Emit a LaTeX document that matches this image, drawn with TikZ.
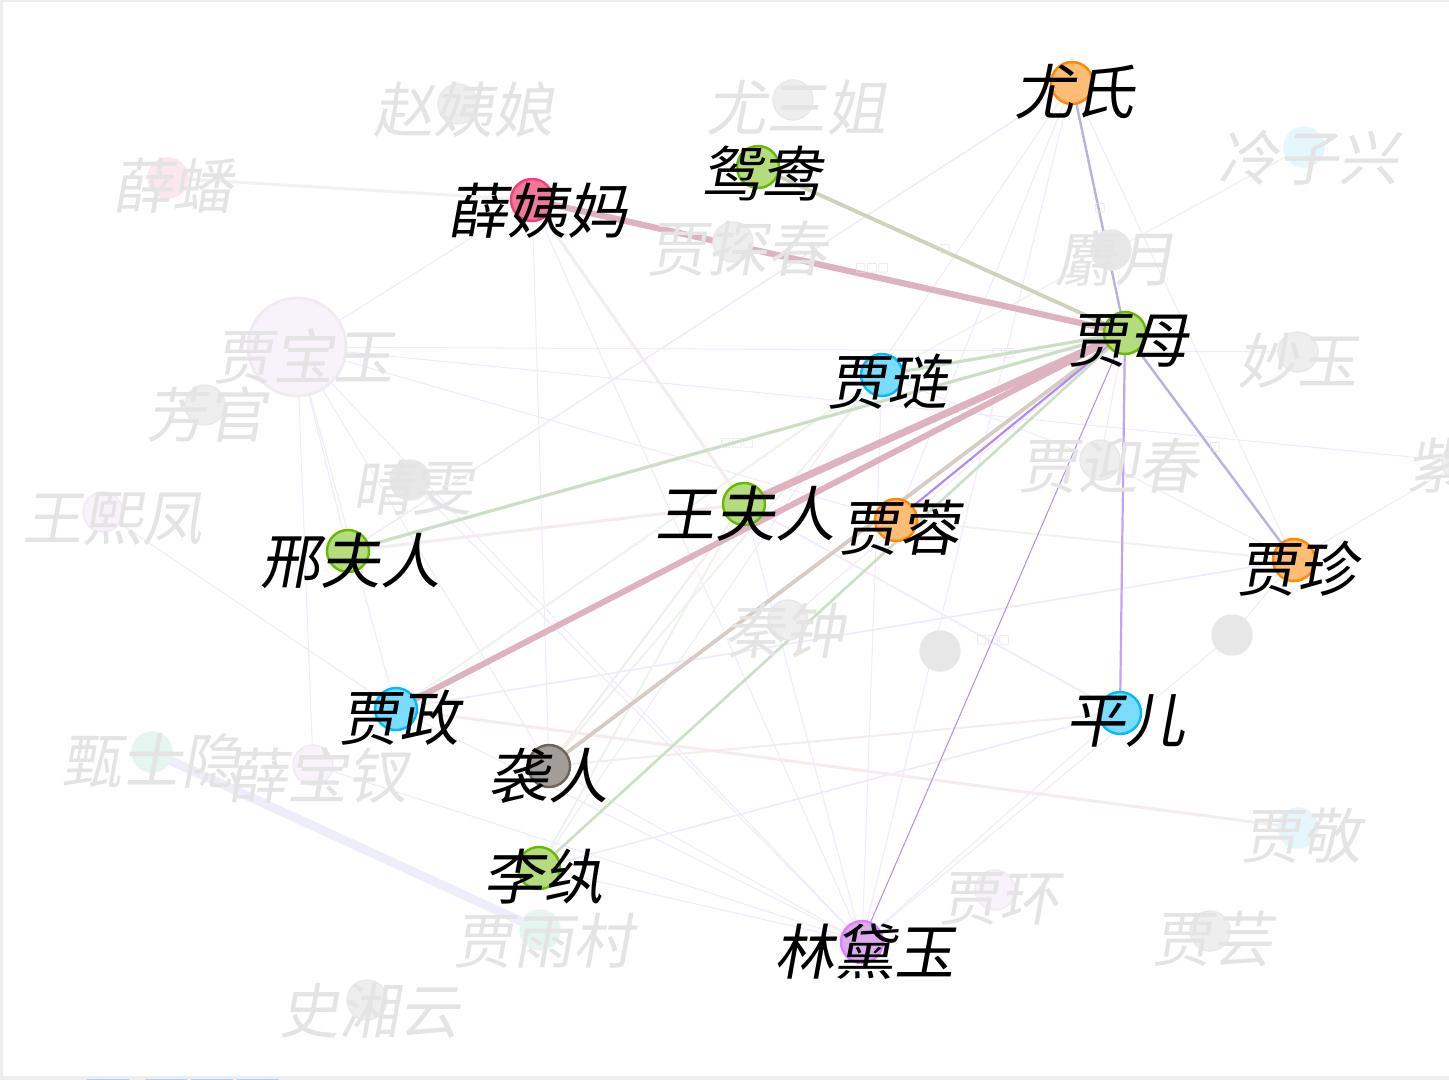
\documentclass[tikz,border=0pt]{standalone}
\usepackage{fontspec}
\newfontfamily\cjk[FakeSlant=0.18]{Noto Sans CJK SC}
\newfontfamily\symf{DejaVu Sans}
\pgfdeclarelayer{bg}
\pgfsetlayers{bg,main}
\definecolor{gfill}{HTML}{B4DC7C}
\definecolor{gline}{HTML}{66BB00}
\definecolor{ofill}{HTML}{FFBC74}
\definecolor{oline}{HTML}{FF8A00}
\definecolor{bfill}{HTML}{7ADDFF}
\definecolor{bline}{HTML}{00BBFF}
\definecolor{pfill}{HTML}{F07898}
\definecolor{pline}{HTML}{FF3A78}
\definecolor{kfill}{HTML}{A29D98}
\definecolor{kline}{HTML}{6C645C}
\definecolor{vfill}{HTML}{DDAAEE}
\definecolor{vline}{HTML}{DD80FF}
\definecolor{fadetext}{HTML}{E4E4E4}
\definecolor{fgray}{HTML}{EEEEEE}
\definecolor{fgrayl}{HTML}{E9E9E9}
\definecolor{flav}{HTML}{F8F3FA}
\definecolor{flavl}{HTML}{F0EBF3}
\definecolor{fblue}{HTML}{E6F6FD}
\definecolor{fpinkn}{HTML}{FBE7ED}
\definecolor{fteal}{HTML}{E5F5EF}
\definecolor{grnode}{HTML}{E7E7E7}
\definecolor{pinkE}{HTML}{DDB3C0}
\definecolor{greenE}{HTML}{CCDEC6}
\definecolor{oliveE}{HTML}{D0D2BC}
\definecolor{brownE}{HTML}{D6CCC4}
\definecolor{purpE}{HTML}{B28CF0}
\definecolor{bpE}{HTML}{B6B4DE}
\definecolor{fpur}{HTML}{EFEBFB}
\definecolor{fgreen}{HTML}{EFF3ED}
\definecolor{fpink}{HTML}{F5EDED}
\definecolor{flavE}{HTML}{EEEEFA}
\definecolor{frame}{HTML}{EEEEEE}
\definecolor{tab}{HTML}{A8D4F5}
\begin{document}
\begin{tikzpicture}[x=0.5pt,y=-0.5pt,
  dot/.style={circle,inner sep=0pt,minimum size=21pt,line width=1.2pt},
  gdot/.style={dot,fill=gfill,draw=gline},
  odot/.style={dot,fill=ofill,draw=oline},
  bdot/.style={dot,fill=bfill,draw=bline},
  pdot/.style={dot,fill=pfill,draw=pline},
  kdot/.style={dot,fill=kfill,draw=kline},
  vdot/.style={dot,fill=vfill,draw=vline},
  fdot/.style={circle,inner sep=0pt,minimum size=20pt,line width=0.7pt,fill=fgray,draw=fgrayl},
  fldot/.style={fdot,fill=flav,draw=flavl},
  fbdot/.style={fdot,fill=fblue,draw=fblue},
  fpdot/.style={fdot,fill=fpinkn,draw=fpinkn},
  ftdot/.style={fdot,fill=fteal,draw=fteal},
  gnode/.style={fdot,fill=grnode,draw=grnode},
  lab/.style={font=\cjk\fontsize{30}{30}\selectfont,inner sep=0pt,text=black},
  flab/.style={lab,text=fadetext},
  tofu/.style={font=\symf\fontsize{6}{6}\selectfont,inner sep=0pt,text=fadetext},
  hedge/.style={line cap=round},
  fedge/.style={line width=0.5pt,fpur}
]
\useasboundingbox (0,0) rectangle (1449,1080);

% ---------- faded nodes ----------
\node[fdot] (zhaoyiniang) at (458,104) {};
\node[fdot] (yousanjie) at (793,100) {};
\node[fbdot] (lengzixing) at (1304,147) {};
\node[fpdot] (xuepan) at (168,178) {};
\node[fdot] (tanchun) at (733,242) {};
\node[fdot,fill=grnode] (sheyue) at (1111,250) {};
\node[fldot,minimum size=49pt,line width=1.4pt] (baoyu) at (297,347) {};
\node[fdot] (miaoyu) at (1298,352) {};
\node[fdot] (fangguan) at (205,405) {};
\node[fdot,fill=grnode] (qingwen) at (410,480) {};
\node[fdot] (yingchun) at (1100,460) {};
\node[fdot] (zijuan) at (1462,462) {};
\node[fldot] (wangxifeng) at (103,512) {};
\node[fdot] (qinzhong) at (788,620) {};
\node[gnode] (grayA) at (940,651) {};
\node[gnode] (grayB) at (1232,635) {};
\node[ftdot] (zhenshiyin) at (152,752) {};
\node[fldot] (baochai) at (313,765) {};
\node[fbdot] (jiajing) at (1298,828) {};
\node[fldot] (jiahuan) at (995,890) {};
\node[ftdot] (yucun) at (540,930) {};
\node[fdot] (jiayun) at (1210,931) {};
\node[fdot] (xiangyun) at (367,1000) {};

% ---------- faded labels ----------
\node[flab] (lzhaoyiniang) at (463,110) {赵姨娘};
\node[flab] (lyousanjie) at (796,108) {尤三姐};
\node[flab] (llengzixing) at (1308,158) {冷子兴};
\node[flab] (lxuepan) at (172,186) {薛蟠};
\node[flab] (ltanchun) at (737,249) {贾探春};
\node[flab] (lsheyue) at (1115,259) {麝月};
\node[flab] (lbaoyu) at (303,356) {贾宝玉};
\node[flab] (lmiaoyu) at (1297,361) {妙玉};
\node[flab] (lfangguan) at (206,415) {芳官};
\node[flab] (lqingwen) at (412,488) {晴雯};
\node[flab] (lyingchun) at (1108,466) {贾迎春};
\node[flab] (lzijuan) at (1466,466) {紫鹃};
\node[flab] (lwangxifeng) at (112,519) {王熙凤};
\node[flab] (lqinzhong) at (784,631) {秦钟};
\node[flab] (lzhenshiyin) at (151,761) {甄士隐};
\node[flab] (lbaochai) at (317,776) {薛宝钗};
\node[flab] (ljiajing) at (1301,836) {贾敬};
\node[flab] (ljiahuan) at (999,899) {贾环};
\node[flab] (lyucun) at (543,941) {贾雨村};
\node[flab] (ljiayun) at (1212,939) {贾芸};
\node[flab] (lxiangyun) at (369,1011) {史湘云};
\node[tofu] (t1) at (993,640) {□□□};
\node[tofu] (t2) at (737,443) {□□□};
\node[tofu] (t3) at (1003,353) {□□};
\node[tofu] (t4) at (1100,208) {□};
\node[tofu] (t5) at (945,249) {□};
\node[tofu] (t6) at (872,268) {□□□};
\node[tofu] (t7) at (1215,447) {□};

% ---------- highlighted nodes ----------
\node[gdot] (jm) at (1125,333) {};
\node[odot] (youshi) at (1072,83) {};
\node[gdot] (yuanyang) at (758,167) {};
\node[pdot] (xueyima) at (532,200) {};
\node[bdot] (jialian) at (882,375) {};
\node[gdot] (wangfuren) at (744,504) {};
\node[odot] (jiarong) at (896,520) {};
\node[gdot] (xingfuren) at (348,551) {};
\node[odot] (jiazhen) at (1294,560) {};
\node[bdot] (jiazheng) at (396,709) {};
\node[bdot] (pinger) at (1120,713) {};
\node[kdot] (xiren) at (549,766) {};
\node[gdot] (liwan) at (539,868) {};
\node[vdot] (daiyu) at (862,942) {};

% ---------- background and edges ----------
\begin{pgfonlayer}{bg}
\fill[white] (0,0) rectangle (1449,1080);
\fill[frame] (0,0) rectangle (3,1080);
\fill[frame] (0,0) rectangle (1449,2);
\fill[frame] (0,1076) rectangle (1449,1080);
\foreach \a/\b in {87/129,145/187,191/233,237/279}{\fill[tab] (\a,1078.5) rectangle (\b,1080);}
% faint edges
\draw[fgreen,line width=1.5pt] (xuepan.center) -- (xueyima.center);
\draw[fpink,line width=1.5pt] (xueyima.center) -- (wangfuren.center);
\draw[fedge] (xueyima.center) -- (daiyu.center);
\draw[fedge] (xueyima.center) -- (baoyu.center);
\draw[fedge] (xueyima.center) -- (xiren.center);
\draw[fpur,line width=0.7pt] (youshi.center) -- (xingfuren.center);
\draw[fedge] (youshi.center) -- (jiazhen.center);
\draw[fedge] (youshi.center) -- (liwan.center);
\draw[fedge] (youshi.center) -- (daiyu.center);
\draw[fgreen,line width=0.7pt] (lengzixing.center) -- (jialian.center);
\draw[fedge] (baoyu.center) -- (miaoyu.center);
\draw[fedge] (baoyu.center) -- (zijuan.center);
\draw[fedge] (baoyu.center) -- (baochai.center);
\draw[fedge] (baoyu.center) -- (xingfuren.center);
\draw[fedge] (baoyu.center) -- (jiarong.center);
\draw[fedge] (baoyu.center) -- (daiyu.center);
\draw[fedge] (baoyu.center) -- (jiazheng.center);
\draw[fedge] (baoyu.center) -- (xiren.center);
\draw[fpink,line width=1.5pt] (xingfuren.center) -- (wangfuren.center);
\draw[fpink,line width=1.5pt] (jiazheng.center) -- (jiajing.center);
\draw[fpur,line width=0.8pt] (jiazheng.center) -- (jiazhen.center);
\draw[fedge] (jiazheng.center) -- (wangxifeng.center);
\draw[fgreen,line width=1pt] (jiazheng.center) -- (jialian.center);
\draw[fpink,line width=1pt] (xiren.center) -- (wangfuren.center);
\draw[fgreen,line width=1pt] (xiren.center) -- (jialian.center);
\draw[fgreen,line width=1pt] (liwan.center) -- (wangfuren.center);
\draw[fgreen,line width=1pt] (jiarong.center) -- (jiazhen.center);
\draw[fedge] (jiazhen.center) -- (zijuan.center);
\draw[fedge] (jiazhen.center) -- (yingchun.center);
\draw[fedge] (grayB.center) -- (jiazhen.center);
\draw[fedge] (daiyu.center) -- (grayB.center);
\draw[fpink,line width=1pt] (pinger.center) -- (xiren.center);
\draw[fpur,line width=0.8pt] (pinger.center) -- (liwan.center);
\draw[fpur,line width=0.8pt] (pinger.center) -- (wangfuren.center);
\draw[fedge] (pinger.center) -- (daiyu.center);
\draw[fedge] (daiyu.center) -- (liwan.center);
\draw[fedge] (daiyu.center) -- (baochai.center);
\draw[fedge] (daiyu.center) -- (jiazheng.center);
\draw[fedge] (daiyu.center) -- (xiren.center);
\draw[fedge] (daiyu.center) -- (wangfuren.center);
\draw[fedge] (daiyu.center) -- (jialian.center);
\draw[fedge] (daiyu.center) -- (qingwen.center);
\draw[fedge] (jm.center) -- (yingchun.center);
\draw[fedge] (jm.center) -- (qinzhong.center);
\draw[fedge] (youshi.center) -- (jiarong.center);
\draw[fedge] (yingchun.center) -- (jialian.center);
\draw[flavE,line width=4.5pt] (zhenshiyin.center) -- (yucun.center);
% highlighted edges of 贾母
\draw[hedge,bpE,line width=1.2pt] (jm.center) -- (youshi.center);
\draw[hedge,oliveE,line width=1.9pt] (jm.center) -- (yuanyang.center);
\draw[hedge,pinkE,line width=3.1pt] (jm.center) -- (xueyima.center);
\draw[hedge,greenE,line width=1.6pt] (jm.center) -- (jialian.center);
\draw[hedge,greenE,line width=1.6pt] (jm.center) -- (xingfuren.center);
\draw[hedge,pinkE,line width=3.6pt] (jm.center) -- (wangfuren.center);
\draw[hedge,pinkE,line width=3pt] (jm.center) -- (jiazheng.center);
\draw[hedge,brownE,line width=1.9pt] (jm.center) -- (xiren.center);
\draw[hedge,purpE,line width=1.1pt] (jm.center) -- (jiarong.center);
\draw[hedge,greenE,line width=1.3pt] (jm.center) -- (liwan.center);
\draw[hedge,purpE,line width=0.5pt] (jm.center) -- (daiyu.center);
\draw[hedge,purpE!80,line width=1.1pt] (jm.center) -- (pinger.center);
\draw[hedge,bpE,line width=1.2pt] (jm.center) -- (jiazhen.center);
\end{pgfonlayer}

% ---------- highlighted labels ----------
\node[lab] (lyoushi) at (1074,92) {尤氏};
\node[lab] (lyuanyang) at (761,174) {鸳鸯};
\node[lab] (lxueyima) at (537,211) {薛姨妈};
\node[lab] (ljm) at (1128,341) {贾母};
\node[lab] (ljialian) at (887,382) {贾琏};
\node[lab] (lwangfuren) at (745,514) {王夫人};
\node[lab] (ljiarong) at (899,528) {贾蓉};
\node[lab] (lxingfuren) at (350,561) {邢夫人};
\node[lab] (ljiazhen) at (1297,569) {贾珍};
\node[lab] (ljiazheng) at (399,718) {贾政};
\node[lab] (lpinger) at (1125,721) {平儿};
\node[lab] (lxiren) at (548,776) {袭人};
\node[lab] (lliwan) at (543,877) {李纨};
\node[lab] (ldaiyu) at (864,952) {林黛玉};
\end{tikzpicture}
\end{document}
